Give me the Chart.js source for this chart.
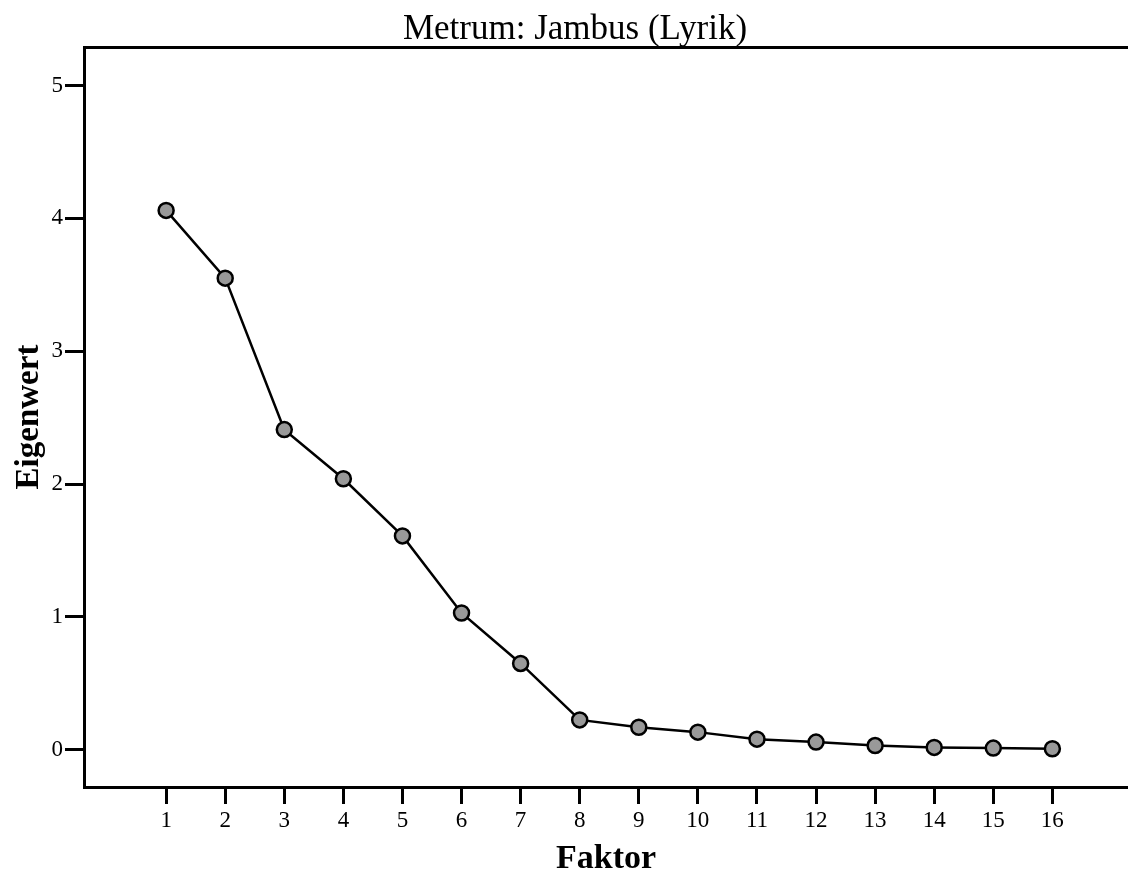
<!DOCTYPE html>
<html>
<head>
  <title>Metrum: Jambus (Lyrik)</title>
  <script src="https://cdn.jsdelivr.net/npm/chart.js"></script>
  <style>
    html, body {
      margin: 0;
      padding: 0;
      background: #fff;
      overflow: hidden;
    }
    #wrap {
      width: 1128px;
      height: 873px;
    }
    #wrap canvas {
      display: block;
    }
  </style>
</head>
<body>
  <div id="wrap">
    <canvas id="scree"></canvas>
  </div>

  <script>
    // Faktoren und Eigenwerte
    var faktoren = [1, 2, 3, 4, 5, 6, 7, 8, 9, 10, 11, 12, 13, 14, 15, 16];
    var eigenwerte = [4.06, 3.55, 2.41, 2.04, 1.61, 1.03, 0.65, 0.225, 0.17, 0.133, 0.08, 0.058, 0.032, 0.018, 0.013, 0.008];
    var yTicks = [0, 1, 2, 3, 4, 5];

    var serif = '"Liberation Serif", "Times New Roman", serif';

    var punkte = faktoren.map(function(f, i) {
      return { x: f, y: eigenwerte[i] };
    });

    var ctx = document.getElementById('scree').getContext('2d');
    var chart = new Chart(ctx, {
      type: 'scatter',
      data: {
        datasets: [{
          label: 'Eigenwert',
          data: punkte,
          showLine: true,
          borderColor: '#000',
          borderWidth: 2.5,
          pointRadius: 7.5,
          pointBorderWidth: 2.5,
          pointBackgroundColor: '#999999',
          pointBorderColor: '#000',
          clip: false
        }]
      },
      options: {
        responsive: true,
        maintainAspectRatio: false,
        animation: false,
        layout: {
          autoPadding: false,
          // linker Rand verschiebt den Titel etwas nach rechts
          padding: { left: 22, right: 0, top: 0, bottom: 0 }
        },
        plugins: {
          legend: { display: false },
          tooltip: { enabled: false },
          title: {
            display: true,
            text: 'Metrum: Jambus (Lyrik)',
            color: '#000',
            font: { family: serif, size: 35, weight: 'normal', lineHeight: 1.0 },
            padding: { top: 12, bottom: 0 }
          }
        },
        scales: {
          x: {
            type: 'linear',
            position: 'bottom',
            min: -0.39,
            max: 17.28,
            afterBuildTicks: function(scale) {
              scale.ticks = faktoren.map(function(v) { return { value: v }; });
            },
            afterFit: function(scale) {
              scale.height = 86;
            },
            ticks: {
              color: '#000',
              font: { family: serif, size: 23 },
              padding: 3,
              maxRotation: 0,
              autoSkip: false
            },
            grid: {
              drawOnChartArea: false,
              drawTicks: true,
              tickLength: 17,
              lineWidth: 3,
              color: '#000'
            },
            border: { display: true, width: 3, color: '#000' },
            title: {
              display: true,
              text: 'Faktor',
              color: '#000',
              font: { family: serif, size: 34, weight: 'bold', lineHeight: 0.8 },
              padding: { top: 0, bottom: 0 }
            }
          },
          x2: {
            type: 'linear',
            position: 'top',
            min: -0.39,
            max: 17.28,
            ticks: { display: false },
            grid: { display: false, drawTicks: false },
            border: { display: true, width: 3, color: '#000' }
          },
          y: {
            type: 'linear',
            min: -0.28,
            max: 5.29,
            afterBuildTicks: function(scale) {
              scale.ticks = yTicks.map(function(v) { return { value: v }; });
            },
            afterFit: function(scale) {
              scale.width = 62;
            },
            ticks: {
              color: '#000',
              font: { family: serif, size: 23 },
              padding: 2
            },
            grid: {
              drawOnChartArea: false,
              drawTicks: true,
              tickLength: 19,
              lineWidth: 3,
              color: '#000'
            },
            border: { display: true, width: 3, color: '#000' },
            title: {
              display: true,
              text: 'Eigenwert',
              color: '#000',
              font: { family: serif, size: 33, weight: 'bold' },
              padding: { top: -12, bottom: 0 }
            }
          }
        }
      }
    });
  </script>
</body>
</html>
